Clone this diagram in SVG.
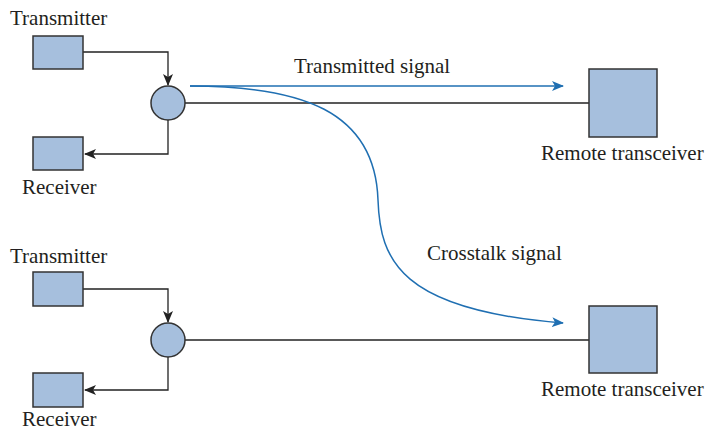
<svg xmlns="http://www.w3.org/2000/svg" width="706" height="431" viewBox="0 0 706 431">
<defs>
<style>
.box{fill:#a6bfdd;stroke:#333;stroke-width:1.5}
.wire{fill:none;stroke:#222;stroke-width:1.3}
.sig{fill:none;stroke:#1f6fb2;stroke-width:1.5}
text{font-family:"Liberation Serif","Times New Roman",serif;font-size:21px;fill:#231f20}
</style>
<marker id="ak" viewBox="0 0 12 10" refX="11" refY="5" markerWidth="12" markerHeight="10" markerUnits="userSpaceOnUse" orient="auto">
<path d="M0,0 L12,5 L0,10 L3,5 Z" fill="#222"/>
</marker>
<marker id="ab" viewBox="0 0 12 10" refX="11" refY="5" markerWidth="12" markerHeight="10" markerUnits="userSpaceOnUse" orient="auto">
<path d="M0,0 L12,5 L0,10 L3,5 Z" fill="#1f6fb2"/>
</marker>
</defs>
<rect width="706" height="431" fill="#fff"/>
<g id="connectors">
<path class="wire" d="M83,52 H168 V85" marker-end="url(#ak)"/>
<path class="wire" d="M168,120 V154 H85" marker-end="url(#ak)"/>
<path class="wire" d="M185,103 H589"/>
<path class="wire" d="M83,289 H168 V322" marker-end="url(#ak)"/>
<path class="wire" d="M168,357 V390 H85" marker-end="url(#ak)"/>
<path class="wire" d="M185,340 H589"/>
<path class="sig" d="M190,86 H563" marker-end="url(#ab)"/>
<path class="sig" d="M190,86 C300,86 375,110 378,200 C380,260 400,310 563,323" marker-end="url(#ab)"/>
</g>
<g id="tx1"><rect class="box" x="33" y="36" width="50" height="33"/><text x="10" y="25">Transmitter</text></g>
<g id="rx1"><rect class="box" x="33" y="137" width="50" height="33"/><text x="22" y="194">Receiver</text></g>
<g id="hyb1"><circle class="box" cx="168" cy="103" r="17"/></g>
<g id="tx2"><rect class="box" x="33" y="272" width="50" height="34"/><text x="10" y="263">Transmitter</text></g>
<g id="rx2"><rect class="box" x="33" y="373" width="50" height="34"/><text x="22" y="426">Receiver</text></g>
<g id="hyb2"><circle class="box" cx="168" cy="340" r="17"/></g>
<g id="remote1"><rect class="box" x="589" y="69" width="68" height="68"/><text x="541" y="160">Remote transceiver</text></g>
<g id="remote2"><rect class="box" x="589" y="306" width="68" height="67"/><text x="541" y="396">Remote transceiver</text></g>
<text x="294" y="73">Transmitted signal</text>
<text x="427" y="260">Crosstalk signal</text>
</svg>
